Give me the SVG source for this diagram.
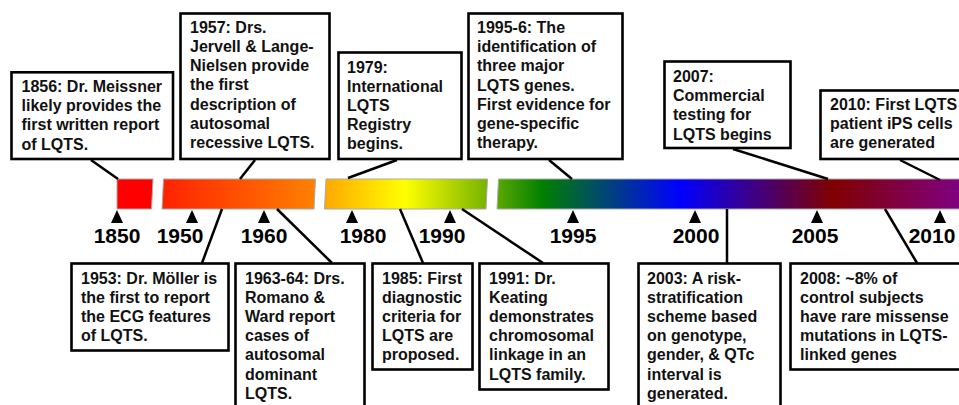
<svg xmlns="http://www.w3.org/2000/svg" width="959" height="405" viewBox="0 0 959 405">
<style>
.box{fill:#fff;stroke:#000;stroke-width:2.6}
.t{font-family:"Liberation Sans",Arial,sans-serif;font-weight:bold;font-size:16px;fill:#111}
.yr{font-family:"Liberation Sans",Arial,sans-serif;font-weight:bold;font-size:21px;fill:#000;text-anchor:middle}
.seg{fill:url(#rainbow);stroke:#aaa;stroke-width:1}
.tick{fill:#000}
.conn line{stroke:#000;stroke-width:2.5}
</style>
<defs>
<linearGradient id="rainbow" gradientUnits="userSpaceOnUse" x1="117" y1="0" x2="959" y2="0">
<stop offset="0" stop-color="#ff0000"/>
<stop offset="0.0416" stop-color="#ff0000"/>
<stop offset="0.0546" stop-color="#ff2200"/>
<stop offset="0.235" stop-color="#ff8000"/>
<stop offset="0.247" stop-color="#ffa800"/>
<stop offset="0.342" stop-color="#ffff00"/>
<stop offset="0.439" stop-color="#78b400"/>
<stop offset="0.452" stop-color="#5aa800"/>
<stop offset="0.505" stop-color="#008000"/>
<stop offset="0.669" stop-color="#0000ff"/>
<stop offset="0.850" stop-color="#800000"/>
<stop offset="1" stop-color="#800080"/>
</linearGradient>
</defs>
<rect width="959" height="405" fill="#fff"/>
<g id="timeline">
<polygon class="seg" points="117,179 153,179 151.5,209 117,209"/>
<polygon class="seg" points="163.5,179 315.5,179 314,209 162,209"/>
<polygon class="seg" points="326,179 487.5,179 486,209 324.5,209"/>
<polygon class="seg" points="498.5,179 962,179 962,209 497,209"/>
<polygon class="tick" points="117,210 111,223 123,223"/>
<polygon class="tick" points="192,210 186,223 198,223"/>
<polygon class="tick" points="264,210 258,223 270,223"/>
<polygon class="tick" points="352,210 346,223 358,223"/>
<polygon class="tick" points="450,210 444,223 456,223"/>
<polygon class="tick" points="573,210 567,223 579,223"/>
<polygon class="tick" points="695,210 689,223 701,223"/>
<polygon class="tick" points="817,210 811,223 823,223"/>
<polygon class="tick" points="940,210 934,223 946,223"/>
<text class="yr" x="117" y="243">1850</text>
<text class="yr" x="180" y="243">1950</text>
<text class="yr" x="264" y="243">1960</text>
<text class="yr" x="363" y="243">1980</text>
<text class="yr" x="442" y="243">1990</text>
<text class="yr" x="573" y="243">1995</text>
<text class="yr" x="696" y="243">2000</text>
<text class="yr" x="815" y="243">2005</text>
<text class="yr" x="932" y="243">2010</text>
</g>
<g id="connectors" class="conn">
<line x1="91" y1="160" x2="118" y2="179"/>
<line x1="255" y1="160" x2="240" y2="179"/>
<line x1="397" y1="160" x2="348" y2="178"/>
<line x1="549" y1="160" x2="572" y2="179"/>
<line x1="733" y1="149" x2="828" y2="179"/>
<line x1="900" y1="160" x2="940" y2="180"/>
<line x1="222" y1="209" x2="202" y2="263"/>
<line x1="277" y1="209" x2="332" y2="263"/>
<line x1="400" y1="209" x2="423" y2="263"/>
<line x1="462" y1="209" x2="543" y2="263"/>
<line x1="727" y1="209" x2="727" y2="263"/>
<line x1="885" y1="209" x2="917" y2="263"/>
</g>
<g id="n1856">
<rect class="box" x="11.5" y="72.3" width="161.5" height="86.7"/>
<text class="t" x="21.5" y="92"><tspan x="21.5">1856: Dr. Meissner</tspan><tspan x="21.5" dy="19.2">likely provides the</tspan><tspan x="21.5" dy="19.2">first written report</tspan><tspan x="21.5" dy="19.2">of LQTS.</tspan></text>
</g>
<g id="n1957">
<rect class="box" x="180.5" y="13.5" width="149" height="145.5"/>
<text class="t" x="190" y="32.7"><tspan x="190">1957: Drs.</tspan><tspan x="190" dy="19.2">Jervell &amp; Lange-</tspan><tspan x="190" dy="19.2">Nielsen provide</tspan><tspan x="190" dy="19.2">the first</tspan><tspan x="190" dy="19.2">description of</tspan><tspan x="190" dy="19.2">autosomal</tspan><tspan x="190" dy="19.2">recessive LQTS.</tspan></text>
</g>
<g id="n1979">
<rect class="box" x="338.5" y="52.5" width="123" height="106.5"/>
<text class="t" x="347" y="72.5"><tspan x="347">1979:</tspan><tspan x="347" dy="19.2">International</tspan><tspan x="347" dy="19.2">LQTS</tspan><tspan x="347" dy="19.2">Registry</tspan><tspan x="347" dy="19.2">begins.</tspan></text>
</g>
<g id="n1995">
<rect class="box" x="468.5" y="13.5" width="154" height="145.5"/>
<text class="t" x="477" y="33"><tspan x="477">1995-6: The</tspan><tspan x="477" dy="19.2">identification of</tspan><tspan x="477" dy="19.2">three major</tspan><tspan x="477" dy="19.2">LQTS genes.</tspan><tspan x="477" dy="19.2">First evidence for</tspan><tspan x="477" dy="19.2">gene-specific</tspan><tspan x="477" dy="19.2">therapy.</tspan></text>
</g>
<g id="n2007">
<rect class="box" x="664.5" y="61.5" width="126" height="86.5"/>
<text class="t" x="673" y="82"><tspan x="673">2007:</tspan><tspan x="673" dy="19.2">Commercial</tspan><tspan x="673" dy="19.2">testing for</tspan><tspan x="673" dy="19.2">LQTS begins</tspan></text>
</g>
<g id="n2010">
<rect class="box" x="820.5" y="90.5" width="200" height="68.5"/>
<text class="t" x="830" y="110"><tspan x="830">2010: First LQTS</tspan><tspan x="830" dy="19.2">patient iPS cells</tspan><tspan x="830" dy="19.2">are generated</tspan></text>
</g>
<g id="n1953">
<rect class="box" x="71.5" y="263.5" width="157" height="87"/>
<text class="t" x="81" y="283.5"><tspan x="81">1953: Dr. Möller is</tspan><tspan x="81" dy="19.2">the first to report</tspan><tspan x="81" dy="19.2">the ECG features</tspan><tspan x="81" dy="19.2">of LQTS.</tspan></text>
</g>
<g id="n1963">
<rect class="box" x="235.5" y="263.5" width="129" height="200"/>
<text class="t" x="245" y="283.5"><tspan x="245">1963-64: Drs.</tspan><tspan x="245" dy="19.2">Romano &amp;</tspan><tspan x="245" dy="19.2">Ward report</tspan><tspan x="245" dy="19.2">cases of</tspan><tspan x="245" dy="19.2">autosomal</tspan><tspan x="245" dy="19.2">dominant</tspan><tspan x="245" dy="19.2">LQTS.</tspan></text>
</g>
<g id="n1985">
<rect class="box" x="372.5" y="263.5" width="100" height="106"/>
<text class="t" x="382" y="283.5"><tspan x="382">1985: First</tspan><tspan x="382" dy="19.2">diagnostic</tspan><tspan x="382" dy="19.2">criteria for</tspan><tspan x="382" dy="19.2">LQTS are</tspan><tspan x="382" dy="19.2">proposed.</tspan></text>
</g>
<g id="n1991">
<rect class="box" x="479.5" y="263.5" width="129" height="126"/>
<text class="t" x="489" y="283.5"><tspan x="489">1991: Dr.</tspan><tspan x="489" dy="19.2">Keating</tspan><tspan x="489" dy="19.2">demonstrates</tspan><tspan x="489" dy="19.2">chromosomal</tspan><tspan x="489" dy="19.2">linkage in an</tspan><tspan x="489" dy="19.2">LQTS family.</tspan></text>
</g>
<g id="n2003">
<rect class="box" x="638.5" y="263.5" width="142" height="200"/>
<text class="t" x="647" y="283.5"><tspan x="647">2003: A risk-</tspan><tspan x="647" dy="19.2">stratification</tspan><tspan x="647" dy="19.2">scheme based</tspan><tspan x="647" dy="19.2">on genotype,</tspan><tspan x="647" dy="19.2">gender, &amp; QTc</tspan><tspan x="647" dy="19.2">interval is</tspan><tspan x="647" dy="19.2">generated.</tspan></text>
</g>
<g id="n2008">
<rect class="box" x="790.5" y="263.5" width="200" height="106"/>
<text class="t" x="800" y="283.5"><tspan x="800">2008: ~8% of</tspan><tspan x="800" dy="19.2">control subjects</tspan><tspan x="800" dy="19.2">have rare missense</tspan><tspan x="800" dy="19.2">mutations in LQTS-</tspan><tspan x="800" dy="19.2">linked genes</tspan></text>
</g>
</svg>
